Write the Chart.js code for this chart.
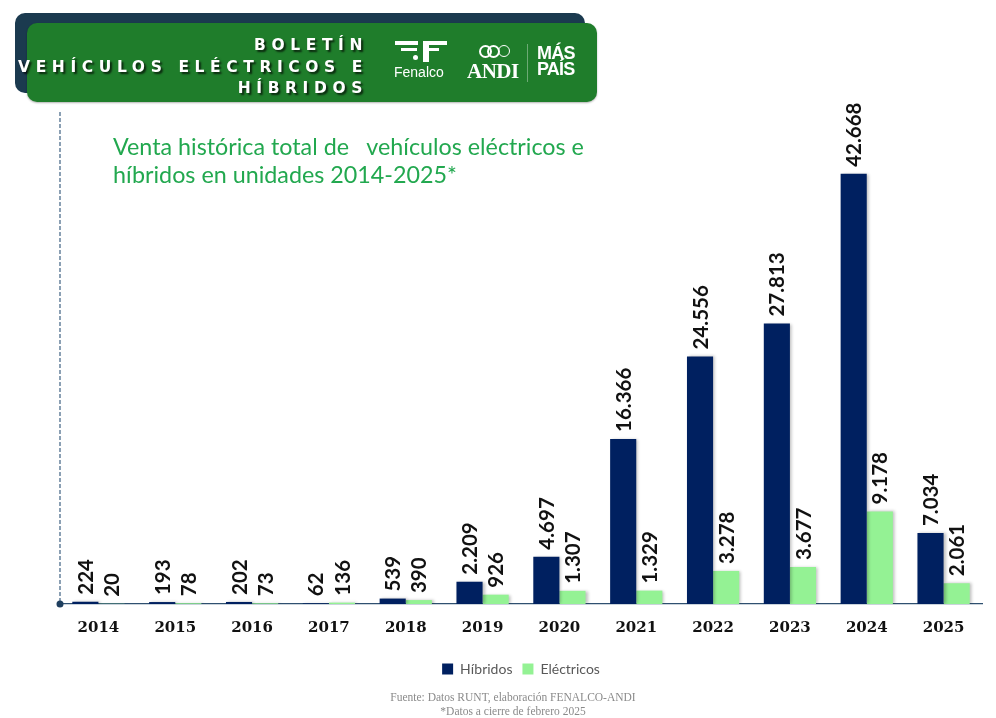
<!DOCTYPE html>
<html>
<head>
<meta charset="utf-8">
<title>Boletín vehículos eléctricos e híbridos</title>
<script src="https://cdn.jsdelivr.net/npm/chart.js"></script>
<style>
  html, body { margin: 0; padding: 0; background: #fff; }
  body { width: 996px; height: 718px; position: relative; overflow: hidden; font-family: Lato, sans-serif; }
  #grafico { position: absolute; left: 0; top: 0; }
  .caja-fondo { position: absolute; left: 15px; top: 13px; width: 570px; height: 80px; background: #1b3a4f; border-radius: 10px; }
  .caja { position: absolute; left: 27px; top: 23px; width: 570px; height: 79px; background: #1f7d2b; border-radius: 10px; box-shadow: 0 1px 2px rgba(0,0,0,0.3); }
  .boletin { position: absolute; right: 634px; top: 35px; text-align: right; color: #fff; font: bold 15.5px "DejaVu Sans", sans-serif; letter-spacing: 5.6px; line-height: 21.5px; text-shadow: 2px 2px 2px rgba(0,0,0,0.7); white-space: nowrap; margin-right: -6px; }
  .blanco { position: absolute; background: #fff; }
  .logo-txt { position: absolute; color: #fff; white-space: nowrap; }
  .titulo { position: absolute; left: 113px; top: 132px; color: #22a84f; font: 23.3px Lato, sans-serif; line-height: 28px; white-space: pre; }
  .fuente { position: absolute; left: 0; width: 1026px; text-align: center; color: #8a8a8a; font: 11.5px "Liberation Serif", serif; line-height: 14px; top: 690px; }
</style>
</head>
<body>
<canvas id="grafico" width="996" height="718"></canvas>

<div class="caja-fondo"></div>
<div class="caja"></div>
<div class="boletin">BOLETÍN<br>VEHÍCULOS ELÉCTRICOS E<br>HÍBRIDOS</div>

<!-- logo Fenalco -->
<div class="blanco" style="left:395px;top:41px;width:23px;height:4px;"></div>
<div class="blanco" style="left:401px;top:48px;width:16px;height:3px;"></div>
<div class="blanco" style="left:413px;top:55px;width:5px;height:5px;border-radius:50%;"></div>
<div class="blanco" style="left:423px;top:41px;width:24px;height:4px;"></div>
<div class="blanco" style="left:423px;top:41px;width:6px;height:21px;"></div>
<div class="blanco" style="left:423px;top:48px;width:16px;height:3px;"></div>
<div class="logo-txt" style="left:394px;top:64px;font:14px 'Liberation Sans',sans-serif;">Fenalco</div>

<!-- logo ANDI -->
<div style="position:absolute;left:479px;top:45px;width:9px;height:9px;border:2.5px solid #fff;border-radius:50%;"></div>
<div style="position:absolute;left:487px;top:45px;width:9px;height:9px;border:2.5px solid #fff;border-radius:50%;"></div>
<div style="position:absolute;left:498px;top:45px;width:10px;height:10px;border:1px solid #fff;border-radius:50%;"></div>
<div class="logo-txt" style="left:467px;top:59px;font:bold 21px 'Liberation Serif',serif;letter-spacing:-0.5px;">ANDI</div>
<div style="position:absolute;left:527px;top:44px;width:1px;height:38px;background:rgba(255,255,255,0.35);"></div>
<div class="logo-txt" style="left:537px;top:45px;font:bold 18px 'Liberation Sans',sans-serif;line-height:16px;letter-spacing:-0.8px;">MÁS<br>PAÍS</div>

<div class="titulo">Venta histórica total de   vehículos eléctricos e
híbridos en unidades 2014-2025*</div>

<div class="fuente">Fuente: Datos RUNT, elaboración FENALCO-ANDI<br>*Datos a cierre de febrero 2025</div>

<script>
  const anios = ['2014', '2015', '2016', '2017', '2018', '2019', '2020', '2021', '2022', '2023', '2024', '2025'];
  const hibridos = [224, 193, 202, 62, 539, 2209, 4697, 16366, 24556, 27813, 42668, 7034];
  const electricos = [20, 78, 73, 136, 390, 926, 1307, 1329, 3278, 3677, 9178, 2061];

  function formato(n) {
    return n.toString().replace(/\B(?=(\d{3})+(?!\d))/g, '.');
  }

  // sombra en barras, etiquetas giradas y linea vertical punteada
  const extras = {
    id: 'extras',
    beforeDatasetsDraw(chart) {
      const ctx = chart.ctx;
      ctx.save();
      ctx.shadowColor = 'rgba(0,0,0,0.25)';
      ctx.shadowBlur = 3;
      ctx.shadowOffsetX = 2;
      ctx.shadowOffsetY = 0;
    },
    afterDatasetsDraw(chart) {
      const ctx = chart.ctx;
      ctx.restore();
      const area = chart.chartArea;

      ctx.save();
      ctx.strokeStyle = '#4d6d8c';
      ctx.lineWidth = 1.3;
      ctx.setLineDash([4, 2]);
      ctx.beginPath();
      ctx.moveTo(area.left, area.top);
      ctx.lineTo(area.left, area.bottom);
      ctx.stroke();
      ctx.setLineDash([]);
      ctx.fillStyle = '#1f3f5f';
      ctx.beginPath();
      ctx.arc(area.left, area.bottom, 3.5, 0, Math.PI * 2);
      ctx.fill();
      ctx.restore();

      chart.data.datasets.forEach((ds, i) => {
        const meta = chart.getDatasetMeta(i);
        meta.data.forEach((bar, j) => {
          ctx.save();
          ctx.translate(bar.x, bar.y - 7);
          ctx.rotate(-Math.PI / 2);
          ctx.font = 'bold 20.5px Lato, sans-serif';
          ctx.fillStyle = '#111';
          ctx.textAlign = 'left';
          ctx.textBaseline = 'middle';
          ctx.fillText(formato(ds.data[j]), 0, 1);
          ctx.restore();
        });
      });
    }
  };

  new Chart(document.getElementById('grafico'), {
    type: 'bar',
    data: {
      labels: anios,
      datasets: [
        { label: 'Híbridos', data: hibridos, backgroundColor: '#002060' },
        { label: 'Eléctricos', data: electricos, backgroundColor: '#94f294' }
      ]
    },
    options: {
      responsive: false,
      animation: false,
      layout: { padding: { top: 112, left: 60, right: 14, bottom: 32 } },
      datasets: { bar: { categoryPercentage: 0.68, barPercentage: 1 } },
      scales: {
        x: {
          z: 1,
          grid: { display: false, drawTicks: false },
          border: { display: true, color: '#2f5070', width: 1.3, dash: [5, 3] },
          ticks: { color: '#111', padding: 15, font: { family: 'DejaVu Serif', size: 15, weight: 'bold' } }
        },
        y: { display: false, min: 0, max: 48800 }
      },
      plugins: {
        legend: {
          position: 'bottom',
          labels: { boxWidth: 11, boxHeight: 11, color: '#595959', padding: 10, font: { family: 'Lato', size: 14 } }
        },
        tooltip: { enabled: false }
      }
    },
    plugins: [extras]
  });
</script>
</body>
</html>
